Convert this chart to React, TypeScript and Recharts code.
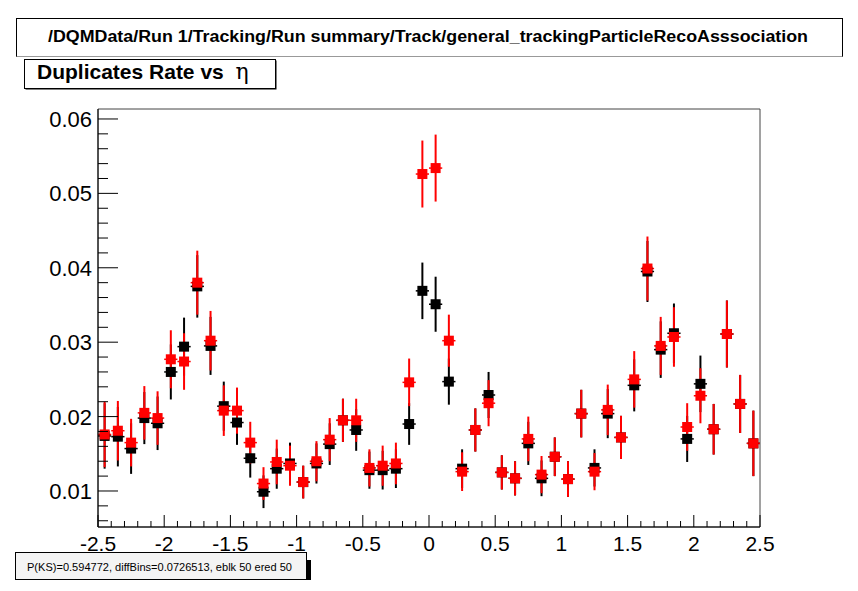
import React from 'react';
import { ComposedChart, Scatter, XAxis, YAxis, ErrorBar, ReferenceArea } from 'recharts';

// bin centres in eta (50 bins of width 0.1)
const etaBins = [
  -2.45, -2.35, -2.25, -2.15, -2.05, -1.95, -1.85, -1.75, -1.65, -1.55,
  -1.45, -1.35, -1.25, -1.15, -1.05, -0.95, -0.85, -0.75, -0.65, -0.55,
  -0.45, -0.35, -0.25, -0.15, -0.05, 0.05, 0.15, 0.25, 0.35, 0.45,
  0.55, 0.65, 0.75, 0.85, 0.95, 1.05, 1.15, 1.25, 1.35, 1.45,
  1.55, 1.65, 1.75, 1.85, 1.95, 2.05, 2.15, 2.25, 2.35, 2.45,
];

// reference histogram (black)
const blackRate = [
  0.0174, 0.0173, 0.0157, 0.0198, 0.0191, 0.026, 0.0294, 0.0375, 0.0295, 0.0214,
  0.0192, 0.0144, 0.0099, 0.013, 0.0137, 0.0112, 0.0137, 0.0163, 0.0195, 0.0182,
  0.0128, 0.0128, 0.013, 0.019, 0.0369, 0.0351, 0.0247, 0.013, 0.0182, 0.0229,
  0.0125, 0.0117, 0.0164, 0.0117, 0.0146, 0.0116, 0.0204, 0.0131, 0.0204, 0.0172,
  0.0242, 0.0395, 0.029, 0.0312, 0.017, 0.0244, 0.0183, 0.0311, 0.0217, 0.0164,
];
const blackErr = [
  0.0044, 0.004, 0.0034, 0.0035, 0.0036, 0.0037, 0.0039, 0.0042, 0.0039, 0.0033,
  0.003, 0.0026, 0.0022, 0.0027, 0.0028, 0.0022, 0.0027, 0.0028, 0.0029, 0.0028,
  0.0025, 0.0026, 0.0026, 0.0028, 0.0038, 0.0037, 0.0031, 0.0026, 0.0029, 0.0031,
  0.0023, 0.0023, 0.0029, 0.0024, 0.0026, 0.0024, 0.0032, 0.0025, 0.0033, 0.0029,
  0.0035, 0.0041, 0.0038, 0.004, 0.0031, 0.0038, 0.0034, 0.0045, 0.0039, 0.0044,
];

// new histogram (red)
const redRate = [
  0.0176, 0.0181, 0.0165, 0.0205, 0.0198, 0.0277, 0.0274, 0.038, 0.0302, 0.0208,
  0.0208, 0.0165, 0.011, 0.0139, 0.0134, 0.0112, 0.014, 0.0169, 0.0195, 0.0195,
  0.0131, 0.0134, 0.0137, 0.0246, 0.0526, 0.0534, 0.0302, 0.0126, 0.0182, 0.0218,
  0.0125, 0.0117, 0.017, 0.0122, 0.0146, 0.0116, 0.0204, 0.0126, 0.0209, 0.0172,
  0.025, 0.0399, 0.0295, 0.0307, 0.0186, 0.0228, 0.0183, 0.0311, 0.0217, 0.0164,
];
const redErr = [
  0.0044, 0.004, 0.0032, 0.0036, 0.0036, 0.0039, 0.0038, 0.0043, 0.004, 0.0034,
  0.0031, 0.0028, 0.0022, 0.003, 0.0027, 0.0022, 0.0027, 0.0029, 0.0029, 0.0029,
  0.0025, 0.0027, 0.0028, 0.0032, 0.0045, 0.0045, 0.0035, 0.0026, 0.0029, 0.0031,
  0.0023, 0.0023, 0.003, 0.0025, 0.0026, 0.0024, 0.0032, 0.0025, 0.0034, 0.0029,
  0.0038, 0.0043, 0.0039, 0.004, 0.0032, 0.0037, 0.0034, 0.0045, 0.0039, 0.0044,
];

const binHalfWidth = 0.05;

const xMajorLabels = [-2.5, -2, -1.5, -1, -0.5, 0, 0.5, 1, 1.5, 2, 2.5];
const yMajorLabels = [0.01, 0.02, 0.03, 0.04, 0.05, 0.06];

const titleText = '/DQMData/Run 1/Tracking/Run summary/Track/general_trackingParticleRecoAsssociation';
const histTitle = 'Duplicates Rate vs ';
const statsText = 'P(KS)=0.594772, diffBins=0.0726513, eblk 50 ered 50';

const X_DOMAIN: [number, number] = [-2.5, 2.5];
const Y_DOMAIN: [number, number] = [0.00516, 0.06134];

// minor tick positions (axis layout only)
const xTicks = Array.from({ length: 51 }, (_, i) => Math.round((-2.5 + i * 0.1) * 10) / 10);
const yTicks = Array.from({ length: 28 }, (_, i) => Math.round((0.006 + i * 0.002) * 1000) / 1000);

const blackData = etaBins.map((eta, i) => ({ eta, rate: blackRate[i], err: blackErr[i], xe: binHalfWidth }));
const redData = etaBins.map((eta, i) => ({ eta, rate: redRate[i], err: redErr[i], xe: binHalfWidth }));

const FONT = '"Liberation Sans", Arial, Helvetica, sans-serif';

const isMajorX = (v: number) => xMajorLabels.some(m => Math.abs(m - v) < 1e-6);
const isMajorY = (v: number) => yMajorLabels.some(m => Math.abs(m - v) < 1e-7);

const XTick = (props: any) => {
  const { x, y, payload } = props;
  const v = payload.value;
  const major = isMajorX(v);
  return (
    <g>
      <line x1={x} x2={x} y1={y} y2={y - (major ? 12 : 6)} stroke="#000" strokeWidth={1} />
      {major && (
        <text x={x} y={y + 24} textAnchor="middle" fontFamily={FONT} fontSize={21} fill="#000">
          {String(Number(v.toFixed(1)))}
        </text>
      )}
    </g>
  );
};

const YTick = (props: any) => {
  const { x, y, payload } = props;
  const v = payload.value;
  const major = isMajorY(v);
  return (
    <g>
      <line x1={x} x2={x + (major ? 20 : 10)} y1={y} y2={y} stroke="#000" strokeWidth={1} />
      {major && (
        <text x={x - 6} y={y + 8} textAnchor="end" fontFamily={FONT} fontSize={22} fill="#000">
          {v.toFixed(2)}
        </text>
      )}
    </g>
  );
};

const square = (color: string) => (props: any) => {
  const { cx, cy } = props;
  if (cx == null || cy == null) return <g />;
  return <rect x={cx - 5} y={cy - 5} width={10} height={10} fill={color} />;
};

export default function App() {
  return (
    <div style={{ position: 'absolute', left: 0, top: 0, width: 858, height: 591, background: '#fff' }}>
      <ComposedChart width={858} height={591} margin={{ top: 109, right: 98, bottom: 0, left: 0 }}>
        <XAxis
          type="number"
          dataKey="eta"
          domain={X_DOMAIN}
          ticks={xTicks}
          interval={0}
          allowDataOverflow
          height={64}
          tickSize={0}
          tickMargin={0}
          tickLine={false}
          axisLine={{ stroke: '#000' }}
          tick={<XTick />}
        />
        <YAxis
          type="number"
          dataKey="rate"
          domain={Y_DOMAIN}
          ticks={yTicks}
          interval={0}
          allowDataOverflow
          width={98}
          tickSize={0}
          tickMargin={0}
          tickLine={false}
          axisLine={{ stroke: '#000' }}
          tick={<YTick />}
        />
        <ReferenceArea
          x1={X_DOMAIN[0]}
          x2={X_DOMAIN[1]}
          y1={Y_DOMAIN[0]}
          y2={Y_DOMAIN[1]}
          fill="none"
          fillOpacity={0}
          stroke="#444"
          strokeWidth={1}
          ifOverflow="visible"
        />
        <Scatter data={blackData} dataKey="rate" fill="#000" shape={square('#000')} isAnimationActive={false}>
          <ErrorBar dataKey="err" direction="y" width={0} stroke="#000" strokeWidth={2} isAnimationActive={false} />
          <ErrorBar dataKey="xe" direction="x" width={0} stroke="#000" strokeWidth={1.5} isAnimationActive={false} />
        </Scatter>
        <Scatter data={redData} dataKey="rate" fill="#ff0000" shape={square('#ff0000')} isAnimationActive={false}>
          <ErrorBar dataKey="err" direction="y" width={0} stroke="#ff0000" strokeWidth={2} isAnimationActive={false} />
          <ErrorBar dataKey="xe" direction="x" width={0} stroke="#ff0000" strokeWidth={1.5} isAnimationActive={false} />
        </Scatter>
      </ComposedChart>

      <svg
        width={858}
        height={591}
        style={{ position: 'absolute', left: 0, top: 0, pointerEvents: 'none' }}
      >
        {/* canvas title */}
        <rect x={16.5} y={18.5} width={826} height={38} fill="#fff" stroke="#000" strokeWidth={1} />
        <line x1={16.5} x2={842.5} y1={56.5} y2={56.5} stroke="#999" strokeWidth={1} />
        <text
          x={428}
          y={42}
          textAnchor="middle"
          fontFamily={FONT}
          fontWeight="bold"
          fontSize={16}
          textLength={760}
          lengthAdjust="spacingAndGlyphs"
        >
          {titleText}
        </text>

        {/* histogram title */}
        <rect x={25.5} y={60.5} width={251} height={29} fill="#000" />
        <rect x={24.5} y={59.5} width={251} height={29} fill="#fff" stroke="#000" strokeWidth={1} />
        <text x={37} y={78.5} fontFamily={FONT} fontWeight="bold" fontSize={21}>
          {histTitle}
          <tspan dx={6} fontFamily='"DejaVu Serif", "Liberation Serif", serif' fontWeight="normal" fontSize={22}>
            η
          </tspan>
        </text>

        {/* KS stats box */}
        <rect x={300} y={560} width={11} height={20} fill="#000" />
        <rect x={15.5} y={552.5} width={291} height={27} fill="#f4f4f4" stroke="#000" strokeWidth={1} />
        <text x={27} y={571} fontFamily={FONT} fontSize={11} textLength={265} lengthAdjust="spacingAndGlyphs">
          {statsText}
        </text>
      </svg>
    </div>
  );
}
